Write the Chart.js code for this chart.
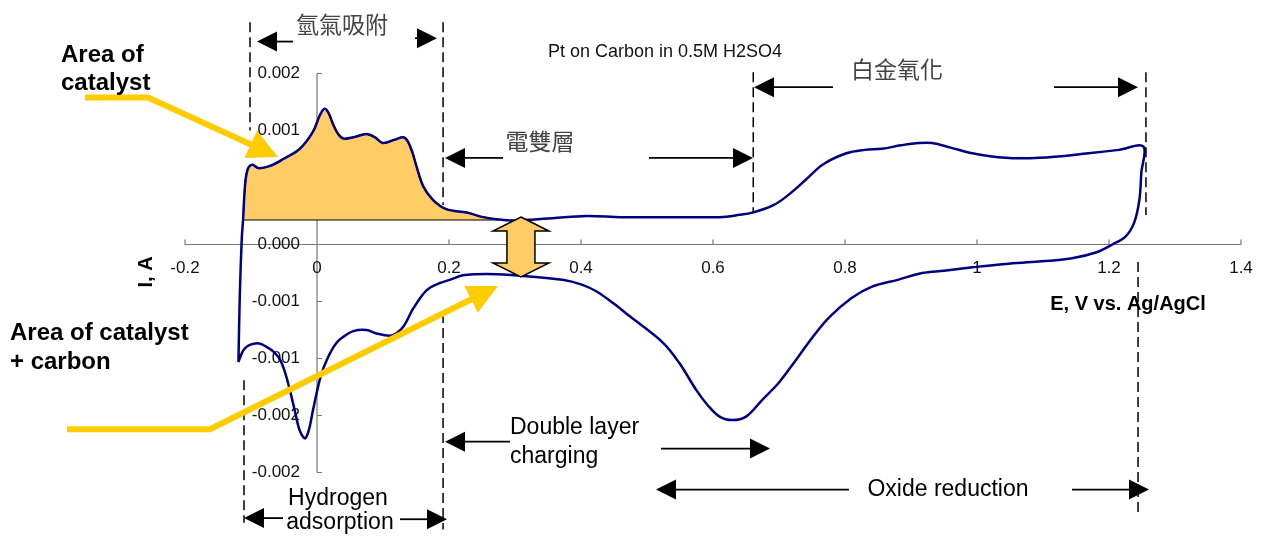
<!DOCTYPE html>
<html>
<head>
<meta charset="utf-8">
<script src="https://cdn.jsdelivr.net/npm/chart.js@4.4.0/dist/chart.umd.min.js"></script>
<style>
  html, body { margin: 0; padding: 0; background: #fff; }
  #cv { display: block; }
</style>
</head>
<body>
<canvas id="cv" width="1266" height="540"></canvas>
<script>
// anodic sweep, E (V vs Ag/AgCl) and I (A)
const anodicE = [-0.119, -0.117, -0.114, -0.112, -0.109, -0.105, -0.098, -0.089, -0.071, -0.051,
  -0.026, -0.006, 0.004, 0.011, 0.017, 0.024, 0.032, 0.040, 0.055, 0.075,
  0.088, 0.100, 0.118, 0.131, 0.138, 0.145, 0.151, 0.161, 0.176, 0.196,
  0.227, 0.252, 0.275, 0.297, 0.330, 0.357, 0.408, 0.460, 0.509, 0.560,
  0.610, 0.640, 0.660, 0.690, 0.711, 0.741, 0.766, 0.802, 0.830, 0.856,
  0.885, 0.912, 0.932, 0.960, 0.993, 1.043, 1.094, 1.169, 1.215, 1.252];
const anodicI = [-0.00103, -0.00045, 0.00005, 0.00022, 0.00052, 0.00066, 0.00070, 0.00067, 0.00069, 0.00075,
  0.00084, 0.00099, 0.00113, 0.00119, 0.00116, 0.00106, 0.00097, 0.00093, 0.00094, 0.00097,
  0.00094, 0.00089, 0.00092, 0.00094, 0.00090, 0.00080, 0.00068, 0.00051, 0.00039, 0.00031,
  0.00028, 0.00024, 0.00022, 0.00021, 0.00022, 0.00023, 0.00025, 0.00024, 0.00024, 0.00024,
  0.00024, 0.00026, 0.00028, 0.00034, 0.00042, 0.00057, 0.00070, 0.00080, 0.00083, 0.00084,
  0.00087, 0.00089, 0.00089, 0.00085, 0.00080, 0.00076, 0.00076, 0.00080, 0.00083, 0.00086];

// cathodic sweep back from the switching potential
const cathodicE = [1.249, 1.246, 1.238, 1.225, 1.205, 1.180, 1.144, 1.094, 1.043, 0.993,
  0.950, 0.917, 0.880, 0.841, 0.810, 0.776, 0.750, 0.726, 0.700, 0.675,
  0.650, 0.629, 0.610, 0.592, 0.575, 0.549, 0.524, 0.474, 0.450,
  0.423, 0.400, 0.372, 0.322, 0.272, 0.240, 0.221, 0.201, 0.185, 0.171,
  0.160, 0.145, 0.131, 0.120, 0.110, 0.090, 0.075, 0.055, 0.040, 0.030,
  0.020, 0.010, 0.004, -0.006, -0.012, -0.018, -0.024, -0.028, -0.034, -0.041,
  -0.048, -0.056, -0.066, -0.076, -0.086, -0.096, -0.105, -0.112, -0.119];
const cathodicI = [0.00063, 0.00039, 0.00019, 0.00007, 0.00000, -0.00007, -0.00012, -0.00015, -0.00017, -0.00020,
  -0.00023, -0.00025, -0.00031, -0.00037, -0.00047, -0.00064, -0.00082, -0.00101, -0.00121, -0.00136,
  -0.00151, -0.00154, -0.00151, -0.00141, -0.00128, -0.00104, -0.00086, -0.00063, -0.00052,
  -0.00041, -0.00035, -0.00031, -0.00028, -0.00026, -0.00026, -0.00027, -0.00031, -0.00034, -0.00038,
  -0.00044, -0.00057, -0.00072, -0.00078, -0.00080, -0.00078, -0.00075, -0.00076, -0.00081, -0.00086,
  -0.00095, -0.00108, -0.00119, -0.00145, -0.00162, -0.00170, -0.00166, -0.00160, -0.00145, -0.00128,
  -0.00113, -0.00101, -0.00094, -0.00090, -0.00087, -0.00087, -0.00089, -0.00093, -0.00103];

// hydrogen adsorption charge region (shaded)
const areaBase = 0.00022;
const areaEnd = 0.275;

const xTicks = [-0.2, 0, 0.2, 0.4, 0.6, 0.8, 1, 1.2, 1.4];
const xTickLabels = ["-0.2", "0", "0.2", "0.4", "0.6", "0.8", "1", "1.2", "1.4"];
const yTicks = [0.0015, 0.001, 0.0005, 0, -0.0005, -0.001, -0.0015, -0.002];
const yTickLabels = ["0.002", "0.001", "0.001", "0.000", "-0.001", "-0.001", "-0.002", "-0.002"];

// dashed region markers: [E, I top, I bottom]
const regionLines = [
  [-0.1015, 0.00195, 0.00100],
  [0.191, 0.00195, 0.000346],
  [0.661, 0.00151, 0.000276],
  [1.256, 0.00151, 0.000259],
  [-0.1106, -0.00119, -0.00244],
  [0.191, -0.00060, -0.00250],
  [1.244, -0.000154, -0.00236]
];

// span arrows: [tail E, tip E, I]
const spanArrows = [
  [-0.0364, -0.0909, 0.00178],
  [0.1485, 0.1818, 0.00181],
  [0.2818, 0.1939, 0.000759],
  [0.503, 0.6606, 0.000759],
  [0.7818, 0.6621, 0.00138],
  [1.1167, 1.2439, 0.00138],
  [-0.0515, -0.1106, -0.00240],
  [0.1258, 0.197, -0.00241],
  [0.2924, 0.1939, -0.00173],
  [0.5212, 0.6864, -0.00179],
  [0.806, 0.5136, -0.00215],
  [1.1439, 1.2606, -0.00215]
];

const sansFont = "'Liberation Sans', Arial, sans-serif";
const cjkFont = "'Noto Sans CJK TC', 'Noto Sans CJK SC', sans-serif";

// text labels: [text, E, I, font, align, color]
const notes = [
  ["Pt on Carbon in 0.5M H2SO4", 0.5273, 0.00169, "18px " + sansFont, "center", "#111"],
  ["氫氣吸附", 0.0379, 0.00193, "23px " + cjkFont, "center", "#444"],
  ["電雙層", 0.3379, 0.000908, "23px " + cjkFont, "center", "#444"],
  ["白金氧化", 0.8788, 0.00154, "23px " + cjkFont, "center", "#444"],
  ["Hydrogen", 0.0318, -0.00223, "23px " + sansFont, "center", "#000"],
  ["adsorption", 0.0348, -0.00244, "23px " + sansFont, "center", "#000"],
  ["Double layer", 0.2924, -0.00161, "23px " + sansFont, "left", "#000"],
  ["charging", 0.2924, -0.00186, "23px " + sansFont, "left", "#000"],
  ["Oxide reduction", 0.956, -0.00215, "23px " + sansFont, "center", "#000"],
  ["Area of", -0.3879, 0.00166, "bold 24px " + sansFont, "left", "#000"],
  ["catalyst", -0.3879, 0.00141, "bold 24px " + sansFont, "left", "#000"],
  ["Area of catalyst", -0.4652, -0.000776, "bold 24px " + sansFont, "left", "#000"],
  ["+ carbon", -0.4652, -0.00103, "bold 24px " + sansFont, "left", "#000"],
  ["E, V vs. Ag/AgCl", 1.2288, -0.000522, "bold 20px " + sansFont, "center", "#000"]
];
const yTitle = ["I, A", -0.2576, -0.000241];

// yellow pointers: polyline in [E, I], arrow head at the last point
const pointers = [
  [[-0.3515, 0.00129], [-0.2561, 0.00129], [-0.0591, 0.000768]],
  [[-0.3788, -0.00162], [-0.1621, -0.00162], [0.2742, -0.000364]]
];

// double-headed arrow between the two branches: [E, I top tip, I bottom tip]
const gapArrow = [0.309, 0.000241, -0.000285];

const loopPoints = anodicE.map((e, i) => ({ x: e, y: anodicI[i] }))
  .concat(cathodicE.map((e, i) => ({ x: e, y: cathodicI[i] })));
const areaPoints = anodicE.map((e, i) => ({ x: e, y: anodicI[i] }))
  .filter(p => p.x <= areaEnd && p.y >= areaBase);
const basePoints = [{ x: areaPoints[0].x, y: areaBase }, { x: areaEnd, y: areaBase }];

function arrowHead(ctx, x1, y1, x2, y2, len, half, color) {
  const a = Math.atan2(y2 - y1, x2 - x1);
  ctx.fillStyle = color;
  ctx.beginPath();
  ctx.moveTo(x2, y2);
  ctx.lineTo(x2 - len * Math.cos(a) - half * Math.sin(a), y2 - len * Math.sin(a) + half * Math.cos(a));
  ctx.lineTo(x2 - len * Math.cos(a) + half * Math.sin(a), y2 - len * Math.sin(a) - half * Math.cos(a));
  ctx.closePath();
  ctx.fill();
}

const axesPlugin = {
  id: "axesPlugin",
  beforeDatasetsDraw(chart) {
    const { ctx, scales: { x, y } } = chart;
    const x0 = x.getPixelForValue(0), y0 = y.getPixelForValue(0);
    ctx.save();
    ctx.strokeStyle = "#777";
    ctx.lineWidth = 1.2;
    ctx.beginPath();
    ctx.moveTo(x.getPixelForValue(xTicks[0]), y0);
    ctx.lineTo(x.getPixelForValue(xTicks[xTicks.length - 1]), y0);
    ctx.moveTo(x0, y.getPixelForValue(yTicks[0]));
    ctx.lineTo(x0, y.getPixelForValue(yTicks[yTicks.length - 1]));
    xTicks.forEach(t => {
      const px = x.getPixelForValue(t);
      ctx.moveTo(px, y0);
      ctx.lineTo(px, y0 - 5);
    });
    yTicks.forEach(t => {
      const py = y.getPixelForValue(t);
      ctx.moveTo(x0, py);
      ctx.lineTo(x0 + 5, py);
    });
    ctx.stroke();

    ctx.fillStyle = "#111";
    ctx.font = "17px " + sansFont;
    ctx.textBaseline = "middle";
    ctx.textAlign = "center";
    xTicks.forEach((t, i) => ctx.fillText(xTickLabels[i], x.getPixelForValue(t), y0 + 24));
    ctx.textAlign = "right";
    yTicks.forEach((t, i) => ctx.fillText(yTickLabels[i], x0 - 17, y.getPixelForValue(t)));
    ctx.restore();
  },
  afterDatasetsDraw(chart) {
    const { ctx, scales: { x, y } } = chart;
    ctx.save();

    // dashed region boundaries
    ctx.strokeStyle = "#000";
    ctx.lineWidth = 1.5;
    ctx.setLineDash([10, 5]);
    regionLines.forEach(([e, top, bot]) => {
      const px = x.getPixelForValue(e);
      ctx.beginPath();
      ctx.moveTo(px, y.getPixelForValue(top));
      ctx.lineTo(px, y.getPixelForValue(bot));
      ctx.stroke();
    });
    ctx.setLineDash([]);

    // span arrows
    spanArrows.forEach(([tail, tip, i]) => {
      const x1 = x.getPixelForValue(tail), x2 = x.getPixelForValue(tip), py = y.getPixelForValue(i);
      const dir = Math.sign(x2 - x1);
      ctx.strokeStyle = "#000";
      ctx.lineWidth = 1.8;
      ctx.beginPath();
      ctx.moveTo(x1, py);
      ctx.lineTo(x2 - dir * 18, py);
      ctx.stroke();
      arrowHead(ctx, x1, py, x2, py, 20, 10, "#000");
    });

    // yellow pointers
    pointers.forEach(pts => {
      const p = pts.map(([e, i]) => [x.getPixelForValue(e), y.getPixelForValue(i)]);
      const [ax, ay] = p[p.length - 2], [bx, by] = p[p.length - 1];
      const a = Math.atan2(by - ay, bx - ax);
      ctx.strokeStyle = "#FFCC00";
      ctx.lineWidth = 6;
      ctx.lineJoin = "miter";
      ctx.beginPath();
      ctx.moveTo(p[0][0], p[0][1]);
      for (let k = 1; k < p.length - 1; k++) ctx.lineTo(p[k][0], p[k][1]);
      ctx.lineTo(bx - 28 * Math.cos(a), by - 28 * Math.sin(a));
      ctx.stroke();
      arrowHead(ctx, ax, ay, bx, by, 30, 15, "#FFCC00");
    });

    // double-headed gap arrow
    const gx = x.getPixelForValue(gapArrow[0]);
    const gt = y.getPixelForValue(gapArrow[1]), gb = y.getPixelForValue(gapArrow[2]);
    ctx.fillStyle = "#FFCC66";
    ctx.strokeStyle = "#000";
    ctx.lineWidth = 1.5;
    ctx.beginPath();
    ctx.moveTo(gx, gt);
    ctx.lineTo(gx + 28, gt + 14);
    ctx.lineTo(gx + 14, gt + 14);
    ctx.lineTo(gx + 14, gb - 14);
    ctx.lineTo(gx + 28, gb - 14);
    ctx.lineTo(gx, gb);
    ctx.lineTo(gx - 28, gb - 14);
    ctx.lineTo(gx - 14, gb - 14);
    ctx.lineTo(gx - 14, gt + 14);
    ctx.lineTo(gx - 28, gt + 14);
    ctx.closePath();
    ctx.fill();
    ctx.stroke();

    // text
    ctx.textBaseline = "middle";
    notes.forEach(([txt, e, i, font, align, color]) => {
      ctx.font = font;
      ctx.textAlign = align;
      ctx.fillStyle = color;
      ctx.fillText(txt, x.getPixelForValue(e), y.getPixelForValue(i));
    });
    ctx.translate(x.getPixelForValue(yTitle[1]), y.getPixelForValue(yTitle[2]));
    ctx.rotate(-Math.PI / 2);
    ctx.font = "bold 20px " + sansFont;
    ctx.textAlign = "center";
    ctx.fillStyle = "#000";
    ctx.fillText(yTitle[0], 0, 0);
    ctx.restore();
  }
};

new Chart(document.getElementById("cv"), {
  type: "line",
  data: {
    datasets: [
      {
        label: "CV",
        data: loopPoints,
        borderColor: "#000080",
        borderWidth: 2.5,
        tension: 0.35,
        fill: false,
        pointRadius: 0
      },
      {
        label: "catalyst area",
        data: areaPoints,
        borderColor: "#000",
        borderWidth: 1.5,
        backgroundColor: "#FFCC66",
        tension: 0.35,
        fill: { value: areaBase },
        pointRadius: 0
      },
      {
        label: "baseline",
        data: basePoints,
        borderColor: "#000",
        borderWidth: 2,
        fill: false,
        pointRadius: 0
      }
    ]
  },
  options: {
    responsive: false,
    animation: false,
    devicePixelRatio: 1,
    layout: { padding: { left: 185, right: 25, top: 73.5, bottom: 67.5 } },
    scales: {
      x: { type: "linear", min: -0.2, max: 1.4, display: false },
      y: { type: "linear", min: -0.002, max: 0.0015, display: false }
    },
    plugins: { legend: { display: false }, tooltip: { enabled: false } }
  },
  plugins: [axesPlugin]
});
</script>
</body>
</html>
